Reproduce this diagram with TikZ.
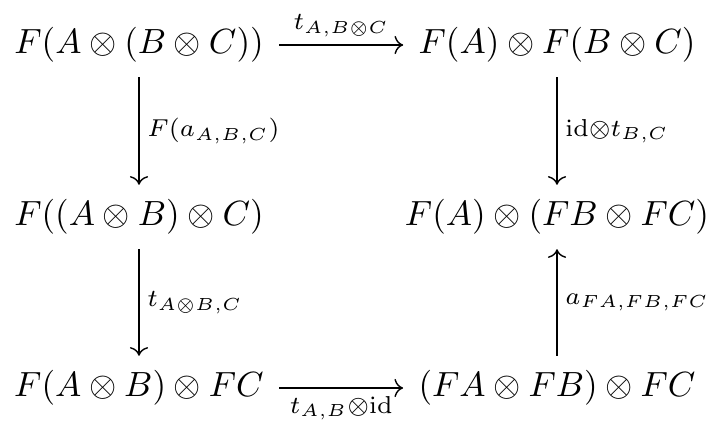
\documentclass[tikz,border=0pt]{standalone}
\usetikzlibrary{arrows.meta}
\begin{document}
\begin{tikzpicture}[x=0.2857pt,y=-0.2857pt,
  obj/.style={inner xsep=4.4pt, inner ysep=4.2pt, outer sep=0pt},
  mor/.style={-{Computer Modern Rightarrow}, line width=0.4pt},
  lab/.style={inner sep=2.2pt}]
\useasboundingbox (0,0) rectangle (725,432);
\node[obj] (a) at (139,45) {$F(A\otimes(B\otimes C))$};
\node[obj] (b) at (557,45) {$F(A)\otimes F(B\otimes C)$};
\node[obj] (c) at (139,217) {$F((A\otimes B)\otimes C)$};
\node[obj] (d) at (557,217) {$F(A)\otimes(FB\otimes FC)$};
\node[obj] (e) at (139,388) {$F(A\otimes B)\otimes FC$};
\node[obj] (f) at (557,388) {$(FA\otimes FB)\otimes FC$};
\draw[mor] (a) -- node[lab, above] {$\scriptstyle t_{A,B\otimes C}$} (b);
\draw[mor] (a) -- node[lab, right] {$\scriptstyle F(a_{A,B,C})$} (c);
\draw[mor] (c) -- node[lab, right] {$\scriptstyle t_{A\otimes B,C}$} (e);
\draw[mor] (e) -- node[lab, below] {$\scriptstyle t_{A,B}\otimes\mathrm{id}$} (f);
\draw[mor] (b) -- node[lab, right] {$\scriptstyle \mathrm{id}\otimes t_{B,C}$} (d);
\draw[mor] (f) -- node[lab, right] {$\scriptstyle a_{FA,FB,FC}$} (d);
\end{tikzpicture}
\end{document}
